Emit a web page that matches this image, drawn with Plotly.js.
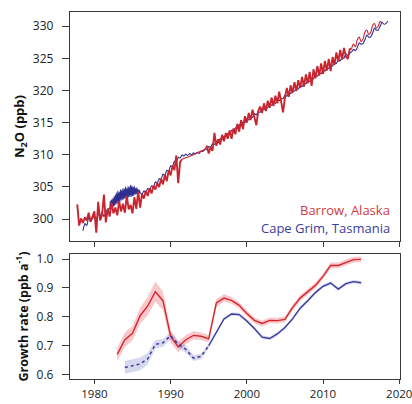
<!DOCTYPE html>
<html><head><meta charset="utf-8">
<script src="https://cdn.plot.ly/plotly-3.0.1.min.js"></script>
<style>html,body{margin:0;padding:0;background:#fff}#chart{width:412px;height:404px}</style>
</head><body><div id="chart"></div>
<script>
// ---- N2O concentration (ppb), Barrow, quarterly from 1977.75 ----
const barrowStart = 1977.75;
const barrowN2O = [302.3,
 299.0,300.1,299.4,300.3, 299.8,301.0,299.6,300.4, 301.2,297.9,302.7,299.8, 300.6,303.8,299.5,301.6,
 300.4,302.6,300.9,301.8, 300.6,302.8,301.2,302.4, 301.0,303.6,301.5,302.2, 300.9,303.4,301.6,304.3,
 301.8,303.9,303.2,304.4, 303.6,304.8,304.0,305.2, 304.6,305.6,305.0,306.3, 305.4,306.9,305.9,307.6,
 306.8,308.3,307.6,309.9, 305.6,308.9,309.3,309.4, 309.5,309.6,309.8,309.9, 310.0,310.2,310.3,310.4,
 310.5,310.7,310.8,311.4, 310.2,311.2,310.6,313.4, 311.4,312.4,311.6,313.1, 312.1,313.4,312.5,313.8,
 312.5,314.1,313.2,314.8, 313.6,315.4,314.0,316.0, 315.0,316.5,315.4,317.0, 315.7,314.6,316.8,317.5,
 316.5,318.0,316.8,318.4, 317.3,318.9,317.6,319.2, 318.0,319.8,318.3,316.6, 318.8,320.4,319.0,320.8,
 319.6,321.3,319.9,321.6, 320.4,322.1,320.6,322.5, 321.1,322.9,320.7,323.3, 321.9,323.8,322.3,324.2,
 322.6,324.6,323.1,324.9, 323.0,325.2,324.0,325.9, 324.5,326.3,324.8,326.6, 325.3,324.9,326.4,326.5,
 327.2,326.8,327.9,328.3, 327.6,328.0,329.1,329.4, 328.7,329.0,330.1,330.4, 329.7,330.0,330.7,330.5];

// ---- Cape Grim: quarterly 1978.5-1981.75, monthly 1982-1986, quarterly 1986.25-2018.5 ----
const grimEarlyStart = 1978.5;
const grimEarly = [298.2,299.3,299.0,300.3,299.7,300.1,300.5,299.9,300.8,300.4,301.1,300.4,301.0,301.6];
const grimMonthlyStart = 1982.0;
const grimMonthly = [301.6,302.8,301.8,303.0,301.9,303.2,302.0,303.5,302.1,303.8,302.3,304.1,
 302.4,304.4,302.5,304.2,302.7,304.6,302.9,304.5,303.0,304.8,303.1,304.7,
 303.2,305.0,303.3,304.8,303.3,305.1,303.4,305.0,303.5,305.3,303.5,305.2,
 303.6,305.0,303.7,305.1,303.8,304.8,303.9,304.9,304.0,304.6,304.0,304.5, 304.1];
const grimLateStart = 1986.25;
const grimLate = [303.9,304.4,304.1,
 304.8,304.5,305.2,305.0, 305.8,305.6,306.3,306.2, 307.0,306.8,307.6,307.5, 308.3,308.2,309.0,308.9,
 309.6,309.5,310.0,309.8, 310.1,309.9,310.2,310.0, 310.3,310.1,310.4,310.2, 310.6,310.5,310.9,310.8,
 311.3,311.2,311.7,311.6, 312.1,312.0,312.5,312.4, 312.9,312.8,313.3,313.2, 313.8,313.6,314.2,314.1,
 314.7,314.5,315.1,315.0, 315.6,315.4,315.9,315.8, 316.4,316.2,316.7,316.6, 317.2,317.0,317.4,317.3,
 317.9,317.7,318.1,318.0, 318.6,318.4,318.8,318.7, 319.3,319.1,319.6,319.5, 320.1,319.9,320.3,320.2,
 320.8,320.6,321.1,321.0, 321.6,321.4,321.9,321.8, 322.4,322.2,322.7,322.6, 323.2,323.0,323.5,323.4,
 324.0,323.8,324.3,324.2, 324.8,324.6,325.1,325.0, 325.7,325.4,325.8,326.0, 326.4,326.2,326.7,327.4,
 327.2,327.3,327.9,328.6, 328.3,328.3,328.9,329.7, 329.4,329.4,330.0,330.6, 330.3,330.4,330.8];

// ---- Growth rate (ppb a^-1) ----
const barrowYears = [];
for (let y = 1983; y <= 2015; y++) barrowYears.push(y);
const barrowRate = [0.670,0.721,0.743,0.804,0.838,0.887,0.856,0.733,0.696,0.721,0.736,0.733,0.724,
 0.848,0.865,0.857,0.840,0.812,0.788,0.777,0.788,0.787,0.791,0.832,0.865,0.887,0.909,0.940,0.978,0.978,0.989,0.998,0.999];
const barrowErr = [0.022,0.025,0.025,0.028,0.032,0.035,0.032,0.022,0.018,0.016,0.014,0.013,0.013,
 0.014,0.013,0.012,0.011,0.010,0.010,0.010,0.010,0.010,0.010,0.010,0.010,0.010,0.010,0.010,0.010,0.010,0.010,0.010,0.010];
const grimYears = [];
for (let y = 1984; y <= 2015; y++) grimYears.push(y);
const grimRate = [0.625,0.630,0.637,0.655,0.705,0.710,0.735,0.705,0.688,0.657,0.663,0.700,
 0.745,0.793,0.810,0.808,0.786,0.760,0.730,0.725,0.741,0.763,0.793,0.830,0.856,0.884,0.906,0.917,0.896,0.915,0.922,0.918];
const grimErr = [0.022,0.022,0.022,0.020,0.015,0.013,0.013,0.012,0.012,0.010,0.010,0.008,
 0.006,0.006,0.006,0.006,0.006,0.006,0.006,0.006,0.006,0.006,0.006,0.006,0.006,0.006,0.006,0.006,0.006,0.006,0.006,0.006];

const seriesNames = ['Barrow, Alaska', 'Cape Grim, Tasmania'];

// ---- build ----
function times(start, step, n) { const t = []; for (let i = 0; i < n; i++) t.push(start + i * step); return t; }
const bT = times(barrowStart, 0.25, barrowN2O.length);
const gT = [].concat(times(grimEarlyStart, 0.25, grimEarly.length),
                     times(grimMonthlyStart, 1/12, grimMonthly.length),
                     times(grimLateStart, 0.25, grimLate.length));
const gV = [].concat(grimEarly, grimMonthly, grimLate);

const RED = '#c8252f', BLUE = '#2e2f8f';
const RED2 = '#d7262b', BLUE2 = '#3a3b9e';

function seg(t, v, a, b) { return {x: t.slice(a, b + 1), y: v.slice(a, b + 1)}; }
function band(xs, ys, es) {
  const up = ys.map((v, i) => v + es[i]), lo = ys.map((v, i) => v - es[i]);
  return {x: xs.concat(xs.slice().reverse()), y: up.concat(lo.slice().reverse())};
}

const traces = [];
traces.push({x: gT, y: gV, xaxis: 'x2', yaxis: 'y2', mode: 'lines', line: {color: BLUE, width: 1.1, shape: 'spline', smoothing: 0.5}, hoverinfo: 'skip', showlegend: false, name: seriesNames[1]});
const bSegs = [[0, 55, 1.9, 'linear'], [55, 68, 1.2, 'linear'], [68, 144, 1.9, 'linear'], [144, barrowN2O.length - 1, 1.1, 'spline']];
bSegs.forEach(s => {
  const d = seg(bT, barrowN2O, s[0], s[1]);
  traces.push({x: d.x, y: d.y, xaxis: 'x2', yaxis: 'y2', mode: 'lines', line: {color: RED, width: s[2], shape: s[3]}, hoverinfo: 'skip', showlegend: false, name: seriesNames[0]});
});

const rb = band(barrowYears, barrowRate, barrowErr);
traces.push({x: rb.x, y: rb.y, xaxis: 'x', yaxis: 'y', mode: 'lines', fill: 'toself', fillcolor: 'rgba(240,110,120,0.38)', line: {width: 0}, hoverinfo: 'skip', showlegend: false});
const gb = band(grimYears, grimRate, grimErr);
traces.push({x: gb.x, y: gb.y, xaxis: 'x', yaxis: 'y', mode: 'lines', fill: 'toself', fillcolor: 'rgba(120,125,200,0.30)', line: {width: 0}, hoverinfo: 'skip', showlegend: false});
traces.push({x: barrowYears, y: barrowRate, xaxis: 'x', yaxis: 'y', mode: 'lines', line: {color: RED2, width: 1.4}, showlegend: false, name: seriesNames[0]});
traces.push({x: grimYears.slice(0, 12), y: grimRate.slice(0, 12), xaxis: 'x', yaxis: 'y', mode: 'lines', line: {color: BLUE2, width: 1.5, dash: 'dot'}, showlegend: false, name: seriesNames[1]});
traces.push({x: grimYears.slice(11), y: grimRate.slice(11), xaxis: 'x', yaxis: 'y', mode: 'lines', line: {color: BLUE2, width: 1.4}, showlegend: false, name: seriesNames[1]});

const FONT = 'Open Sans, Noto Sans, sans-serif';
const axisCommon = {showline: true, mirror: true, linecolor: '#3a3a3a', linewidth: 1.2, ticks: 'outside', tickcolor: '#3a3a3a', showgrid: false, zeroline: false, tickfont: {family: FONT, size: 12, color: '#222'}};
const xr = [1976.8, 2020.1];

const layout = {
  width: 412, height: 404,
  margin: {l: 70, r: 12, t: 12, b: 25},
  paper_bgcolor: '#fff', plot_bgcolor: '#fff',
  font: {family: FONT, color: '#222'},
  xaxis: Object.assign({}, axisCommon, {anchor: 'y', domain: [0, 1], range: xr, tickvals: [1980, 1990, 2000, 2010, 2020], ticklen: 4, ticklabelstandoff: 0, ticklabeloverflow: 'allow', tickfont: {family: FONT, size: 11.5, color: '#222'}}),
  yaxis: Object.assign({}, axisCommon, {anchor: 'x', domain: [0, 0.3406], range: [0.585, 1.0176], tickvals: [0.6, 0.7, 0.8, 0.9, 1.0], tickformat: '.1f', ticklen: 7, ticklabelstandoff: 6,
    title: {text: 'Growth rate (ppb a<sup>-1</sup>)', font: {family: FONT, size: 12.5, weight: 'bold', color: '#111'}, standoff: 5}}),
  xaxis2: Object.assign({}, axisCommon, {anchor: 'y2', domain: [0, 1], range: xr, tickvals: [1980, 1990, 2000, 2010, 2020], ticklen: 5, showticklabels: false}),
  yaxis2: Object.assign({}, axisCommon, {anchor: 'x2', domain: [0.376, 1], range: [296.6, 332.2], tickvals: [300, 305, 310, 315, 320, 325, 330], ticklen: 7, ticklabelstandoff: 6,
    title: {text: 'N<sub>2</sub>O (ppb)', font: {family: FONT, size: 13, weight: 'bold', color: '#111'}, standoff: 5}}),
  annotations: [
    {xref: 'paper', yref: 'paper', x: 0.9758, y: 0.4605, xanchor: 'right', yanchor: 'middle', showarrow: false, text: seriesNames[0], font: {family: FONT, size: 13, color: '#d23a42'}},
    {xref: 'paper', yref: 'paper', x: 0.9758, y: 0.4114, xanchor: 'right', yanchor: 'middle', showarrow: false, text: seriesNames[1], font: {family: FONT, size: 13, color: '#3b3d9c'}}
  ]
};

Plotly.newPlot('chart', traces, layout, {staticPlot: true, displayModeBar: false});
</script></body></html>
